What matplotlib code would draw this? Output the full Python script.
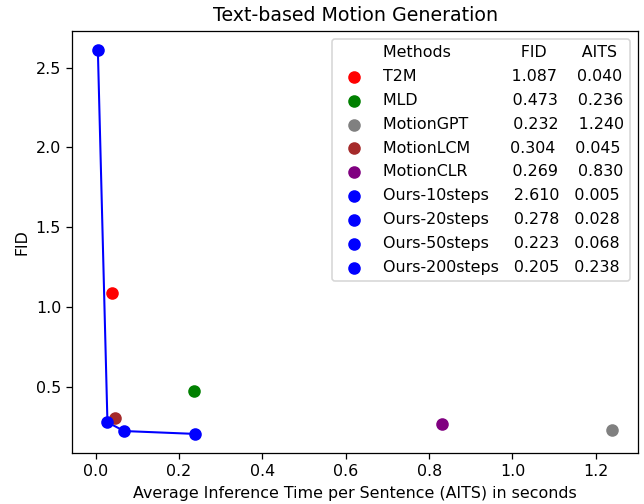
import matplotlib
matplotlib.use("Agg")
import matplotlib.pyplot as plt
from matplotlib.font_manager import FontProperties

methods = ["T2M", "MLD", "MotionGPT", "MotionLCM", "MotionCLR",
           "Ours-10steps", "Ours-20steps", "Ours-50steps", "Ours-200steps"]
fid = [1.087, 0.473, 0.232, 0.304, 0.269, 2.610, 0.278, 0.223, 0.205]
aits = [0.040, 0.236, 1.240, 0.045, 0.830, 0.005, 0.028, 0.068, 0.238]
colores = ["red", "green", "gray", "brown", "purple", "blue", "blue", "blue", "blue"]

dpi = 114
fig = plt.figure(figsize=(644 / dpi, 504 / dpi), dpi=dpi)
ax = fig.add_axes([0.112, 0.101, 0.879, 0.8377])

renderer = fig.canvas.get_renderer()
prop = FontProperties(size=10)

def ancho(s):
    w, h, d = renderer.get_text_width_height_descent(s, prop, ismath=False)
    return w

def rellenar(s, objetivo):
    # pad with spaces until the text reaches the target pixel offset
    while ancho(s + " ") <= objetivo + 2:
        s += " "
    return s

# header row of the legend (no marker)
cab = rellenar("Methods", 137) + "FID"
cab = rellenar(cab, 198) + "AITS"
ax.scatter([], [], s=0, label=cab)

for m, f, a, c in zip(methods, fid, aits, colores):
    etiqueta = rellenar(m, 129) + f"{f:.3f}"
    etiqueta = rellenar(etiqueta, 194) + f"{a:.3f}"
    ax.scatter([a], [f], color=c, s=48, label=etiqueta, zorder=3)

# line through our own models
ours_x = aits[5:]
ours_y = fid[5:]
ax.plot(ours_x, ours_y, color="blue", linewidth=1.3, zorder=2)

ax.set_title("Text-based Motion Generation")
ax.set_xlabel("Average Inference Time per Sentence (AITS) in seconds")
ax.set_ylabel("FID")
ax.legend(loc="upper right", labelspacing=0.56)

fig.savefig("out.png", dpi=dpi)
